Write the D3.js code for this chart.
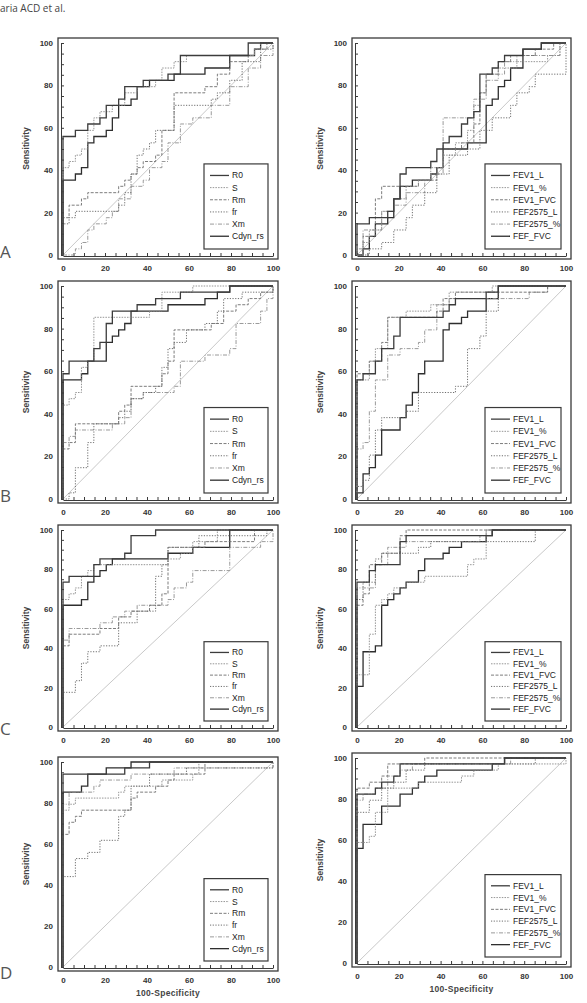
<!DOCTYPE html>
<html>
<head>
<meta charset="utf-8">
<script src="https://cdn.jsdelivr.net/npm/d3@7"></script>
<style>
  body { margin: 0; background: #fff; }
  svg { display: block; }
</style>
</head>
<body>
<div id="chart"></div>
<script>
// séries et repères
const seriesLeft = ["R0", "S", "Rm", "fr", "Xm", "Cdyn_rs"];
const seriesRight = ["FEV1_L", "FEV1_%", "FEV1_FVC", "FEF2575_L", "FEF2575_%", "FEF_FVC"];
const panelLetters = ["A", "B", "C", "D"];
const axisTicks = [0, 20, 40, 60, 80, 100];

// courbes ROC : [100-spécificité, sensibilité]
const curvesALeft = [
  [[0,0],[0,55.9],[5.9,58.8],[11.8,61.8],[17.6,64.7],[20.6,70.6],[26.5,73.5],[29.4,79.4],[38.2,82.4],[50,85.3],[55.9,94.1],[88.2,100],[100,100]],
  [[0,0],[0,41.2],[2.9,44.1],[5.9,47.1],[8.8,50],[11.8,58.8],[14.7,64.7],[17.6,67.6],[23.5,70.6],[29.4,76.5],[35.3,79.4],[44.1,82.4],[47.1,88.2],[52.9,91.2],[58.8,94.1],[91.2,97.1],[94.1,100],[100,100]],
  [[0,0],[0,17.6],[2.9,23.5],[8.8,26.5],[11.8,29.4],[26.5,32.4],[29.4,35.3],[32.4,38.2],[35.3,41.2],[38.2,44.1],[44.1,47.1],[47.1,58.8],[52.9,76.5],[67.6,79.4],[73.5,85.3],[79.4,91.2],[88.2,94.1],[91.2,97.1],[97.1,100],[100,100]],
  [[0,0],[0,14.7],[2.9,17.6],[5.9,20.6],[26.5,23.5],[29.4,29.4],[32.4,38.2],[35.3,47.1],[38.2,50],[41.2,52.9],[44.1,58.8],[52.9,70.6],[70.6,73.5],[73.5,76.5],[79.4,82.4],[85.3,91.2],[94.1,97.1],[100,100]],
  [[0,0],[5.9,2.9],[8.8,5.9],[11.8,11.8],[14.7,14.7],[20.6,17.6],[23.5,20.6],[26.5,26.5],[32.4,32.4],[38.2,35.3],[41.2,41.2],[47.1,44.1],[50,52.9],[55.9,61.8],[61.8,64.7],[70.6,70.6],[79.4,79.4],[88.2,88.2],[94.1,94.1],[100,100]],
  [[0,0],[0,35.3],[5.9,38.2],[8.8,41.2],[11.8,52.9],[14.7,55.9],[20.6,58.8],[23.5,64.7],[26.5,70.6],[32.4,73.5],[35.3,79.4],[41.2,82.4],[52.9,85.3],[67.6,88.2],[79.4,94.1],[91.2,97.1],[94.1,100],[100,100]]
];
const curvesARight = [
  [[0,0],[0,14.7],[5.9,17.6],[14.7,20.6],[17.6,26.5],[20.6,38.2],[23.5,41.2],[35.3,44.1],[38.2,50],[41.2,52.9],[44.1,55.9],[50,61.8],[52.9,64.7],[55.9,67.6],[58.8,85.3],[64.7,88.2],[67.6,91.2],[70.6,94.1],[79.4,97.1],[88.2,100],[100,100]],
  [[0,0],[2.9,5.9],[5.9,11.8],[11.8,20.6],[17.6,26.5],[23.5,32.4],[29.4,35.3],[35.3,41.2],[41.2,47.1],[47.1,52.9],[52.9,58.8],[55.9,70.6],[58.8,76.5],[61.8,85.3],[67.6,88.2],[76.5,91.2],[91.2,94.1],[97.1,100],[100,100]],
  [[0,0],[2.9,8.8],[8.8,26.5],[11.8,32.4],[29.4,35.3],[38.2,41.2],[41.2,50],[50,52.9],[55.9,61.8],[58.8,76.5],[61.8,85.3],[67.6,91.2],[73.5,94.1],[85.3,97.1],[94.1,100],[100,100]],
  [[0,0],[5.9,2.9],[11.8,5.9],[17.6,11.8],[23.5,17.6],[26.5,23.5],[32.4,29.4],[38.2,38.2],[44.1,47.1],[52.9,50],[58.8,58.8],[64.7,64.7],[73.5,70.6],[76.5,76.5],[82.4,79.4],[85.3,85.3],[100,100]],
  [[0,0],[0,2.9],[2.9,11.8],[11.8,20.6],[17.6,23.5],[23.5,29.4],[32.4,35.3],[35.3,38.2],[41.2,64.7],[55.9,73.5],[61.8,82.4],[67.6,85.3],[70.6,91.2],[76.5,94.1],[97.1,100],[100,100]],
  [[0,0],[2.9,2.9],[5.9,8.8],[8.8,14.7],[14.7,17.6],[17.6,26.5],[20.6,32.4],[26.5,35.3],[35.3,38.2],[38.2,41.2],[41.2,50],[52.9,52.9],[61.8,70.6],[64.7,73.5],[67.6,79.4],[70.6,82.4],[73.5,88.2],[79.4,97.1],[88.2,100],[100,100]]
];
const curvesBLeft = [
  [[0,0],[0,58.8],[2.9,64.7],[14.7,70.6],[17.6,73.5],[20.6,82.4],[23.5,88.2],[35.3,91.2],[44.1,94.1],[55.9,97.1],[79.4,100],[100,100]],
  [[0,0],[0,44.1],[2.9,47.1],[5.9,50],[8.8,61.8],[11.8,64.7],[14.7,85.3],[41.2,88.2],[47.1,97.1],[61.8,100],[100,100]],
  [[0,0],[0,23.5],[2.9,26.5],[5.9,35.3],[23.5,35.3],[26.5,41.2],[29.4,44.1],[32.4,52.9],[44.1,52.9],[47.1,58.8],[50,64.7],[52.9,79.4],[70.6,82.4],[76.5,88.2],[82.4,91.2],[88.2,94.1],[94.1,97.1],[100,100]],
  [[0,0],[2.9,2.9],[5.9,14.7],[11.8,26.5],[14.7,35.3],[26.5,38.2],[29.4,41.2],[32.4,47.1],[38.2,50],[44.1,52.9],[47.1,61.8],[50,70.6],[52.9,73.5],[58.8,79.4],[67.6,82.4],[73.5,88.2],[76.5,94.1],[85.3,97.1],[100,100]],
  [[0,0],[0,26.5],[2.9,29.4],[5.9,32.4],[23.5,35.3],[29.4,38.2],[32.4,47.1],[38.2,50],[52.9,52.9],[55.9,64.7],[67.6,67.6],[79.4,70.6],[82.4,82.4],[94.1,88.2],[97.1,94.1],[100,100]],
  [[0,0],[0,55.9],[8.8,58.8],[11.8,64.7],[20.6,73.5],[23.5,76.5],[26.5,79.4],[29.4,82.4],[32.4,88.2],[50,91.2],[67.6,94.1],[73.5,97.1],[79.4,100],[100,100]]
];
const curvesBRight = [
  [[0,0],[0,55.9],[2.9,58.8],[8.8,64.7],[11.8,70.6],[17.6,76.5],[20.6,85.3],[41.2,88.2],[44.1,91.2],[47.1,94.1],[61.8,97.1],[67.6,100],[100,100]],
  [[0,0],[0,55.9],[5.9,64.7],[8.8,70.6],[14.7,85.3],[23.5,88.2],[35.3,91.2],[44.1,97.1],[64.7,100],[100,100]],
  [[0,0],[0,58.8],[5.9,64.7],[11.8,73.5],[14.7,85.3],[38.2,88.2],[41.2,94.1],[47.1,97.1],[91.2,100],[100,100]],
  [[0,0],[0,5.9],[2.9,8.8],[5.9,20.6],[8.8,32.4],[11.8,38.2],[23.5,41.2],[29.4,50],[47.1,52.9],[52.9,70.6],[58.8,76.5],[61.8,88.2],[67.6,100],[100,100]],
  [[0,0],[0,23.5],[2.9,26.5],[5.9,41.2],[8.8,55.9],[14.7,67.6],[20.6,70.6],[29.4,73.5],[32.4,79.4],[38.2,91.2],[44.1,94.1],[82.4,97.1],[91.2,100],[100,100]],
  [[0,0],[0,2.9],[2.9,11.8],[5.9,14.7],[8.8,20.6],[11.8,32.4],[20.6,38.2],[23.5,44.1],[26.5,50],[29.4,58.8],[32.4,64.7],[41.2,79.4],[44.1,82.4],[50,85.3],[52.9,88.2],[61.8,94.1],[67.6,100],[100,100]]
];
const curvesCLeft = [
  [[0,0],[0,73.5],[2.9,76.5],[14.7,82.4],[17.6,85.3],[29.4,88.2],[32.4,97.1],[44.1,100],[100,100]],
  [[0,0],[0,64.7],[2.9,67.6],[5.9,70.6],[8.8,76.5],[11.8,79.4],[14.7,82.4],[50,85.3],[55.9,88.2],[61.8,94.1],[73.5,100],[100,100]],
  [[0,0],[0,41.2],[2.9,47.1],[17.6,50],[26.5,55.9],[32.4,58.8],[41.2,61.8],[47.1,67.6],[50,91.2],[67.6,94.1],[91.2,100],[100,100]],
  [[0,0],[0,17.6],[5.9,23.5],[8.8,32.4],[11.8,38.2],[17.6,41.2],[26.5,52.9],[35.3,58.8],[44.1,76.5],[47.1,82.4],[50,91.2],[64.7,97.1],[97.1,100],[100,100]],
  [[0,0],[0,44.1],[2.9,50],[17.6,52.9],[23.5,55.9],[29.4,58.8],[35.3,61.8],[50,64.7],[52.9,70.6],[58.8,73.5],[61.8,79.4],[79.4,82.4],[79.4,91.2],[94.1,94.1],[100,100]],
  [[0,0],[0,61.8],[8.8,64.7],[11.8,73.5],[14.7,76.5],[17.6,79.4],[20.6,82.4],[23.5,85.3],[50,88.2],[61.8,91.2],[79.4,100],[100,100]]
];
const curvesCRight = [
  [[0,0],[0,73.5],[5.9,79.4],[8.8,82.4],[20.6,94.1],[23.5,97.1],[64.7,100],[100,100]],
  [[0,0],[0,26.5],[5.9,47.1],[8.8,61.8],[11.8,64.7],[14.7,67.6],[17.6,70.6],[23.5,73.5],[32.4,76.5],[50,76.5],[52.9,82.4],[55.9,85.3],[61.8,100],[100,100]],
  [[0,0],[0,61.8],[2.9,67.6],[5.9,82.4],[11.8,88.2],[20.6,97.1],[23.5,100],[100,100]],
  [[0,0],[0,64.7],[2.9,73.5],[8.8,85.3],[11.8,88.2],[29.4,91.2],[35.3,94.1],[85.3,100],[100,100]],
  [[0,0],[0,70.6],[5.9,70.6],[8.8,82.4],[14.7,91.2],[23.5,94.1],[58.8,97.1],[61.8,100],[100,100]],
  [[0,0],[0,20.6],[2.9,38.2],[8.8,41.2],[11.8,61.8],[14.7,64.7],[17.6,67.6],[20.6,70.6],[23.5,73.5],[29.4,79.4],[32.4,85.3],[41.2,88.2],[44.1,91.2],[50,94.1],[61.8,97.1],[64.7,100],[100,100]]
];
const curvesDLeft = [
  [[0,0],[0,94.1],[29.4,97.1],[41.2,100],[100,100]],
  [[0,0],[0,76.5],[2.9,79.4],[5.9,82.4],[26.5,85.3],[29.4,88.2],[47.1,91.2],[61.8,94.1],[64.7,100],[100,100]],
  [[0,0],[0,64.7],[2.9,70.6],[5.9,73.5],[8.8,76.5],[26.5,76.5],[32.4,82.4],[35.3,85.3],[44.1,88.2],[50,91.2],[52.9,94.1],[67.6,100],[100,100]],
  [[0,0],[0,44.1],[5.9,52.9],[11.8,55.9],[17.6,61.8],[26.5,73.5],[29.4,76.5],[32.4,88.2],[41.2,94.1],[58.8,97.1],[100,100]],
  [[0,0],[0,79.4],[2.9,85.3],[14.7,88.2],[17.6,91.2],[32.4,94.1],[52.9,97.1],[100,100]],
  [[0,0],[0,85.3],[8.8,88.2],[11.8,94.1],[20.6,97.1],[32.4,100],[100,100]]
];
const curvesDRight = [
  [[0,0],[0,82.4],[8.8,85.3],[11.8,88.2],[17.6,91.2],[20.6,97.1],[70.6,100],[100,100]],
  [[0,0],[0,58.8],[5.9,61.8],[8.8,73.5],[14.7,85.3],[29.4,88.2],[50,91.2],[55.9,94.1],[67.6,97.1],[100,100]],
  [[0,0],[0,85.3],[5.9,88.2],[11.8,91.2],[14.7,97.1],[32.4,100],[100,100]],
  [[0,0],[0,73.5],[5.9,79.4],[11.8,85.3],[17.6,88.2],[23.5,94.1],[32.4,97.1],[85.3,100],[100,100]],
  [[0,0],[0,79.4],[2.9,82.4],[8.8,85.3],[14.7,91.2],[20.6,94.1],[26.5,97.1],[73.5,100],[100,100]],
  [[0,0],[0,55.9],[2.9,67.6],[11.8,76.5],[20.6,82.4],[26.5,85.3],[29.4,88.2],[32.4,91.2],[38.2,94.1],[61.8,94.1],[64.7,97.1],[70.6,100],[100,100]]
];

//---------------------------------------------------------------------------------------

// Mise en page : cadres des 8 graphiques
const W = 587, H = 1003;
const colFrames = [[58, 278], [352, 571]];
const rowFramesLeft = [[38, 259], [281, 503], [525, 731], [757, 971]];
const rowFramesRight = [[38, 259], [281, 503], [525, 731], [753, 967]];
const letterBaselines = [258, 502, 735, 979];

// styles des 6 courbes (même ordre que les légendes)
const lineStyles = [
  { col: "#3c3c3c", w: 1.3, dash: null },
  { col: "#8a8a8a", w: 0.9, dash: "1.5,1.2" },
  { col: "#6e6e6e", w: 0.9, dash: "3,1.5" },
  { col: "#5e5e5e", w: 0.9, dash: "1.2,1.5" },
  { col: "#8e8e8e", w: 0.9, dash: "4,1.5,1,1.5" },
  { col: "#2e2e2e", w: 1.3, dash: null }
];

const panels = [
  { row: 0, col: 0, curves: curvesALeft, names: seriesLeft },
  { row: 0, col: 1, curves: curvesARight, names: seriesRight },
  { row: 1, col: 0, curves: curvesBLeft, names: seriesLeft },
  { row: 1, col: 1, curves: curvesBRight, names: seriesRight },
  { row: 2, col: 0, curves: curvesCLeft, names: seriesLeft },
  { row: 2, col: 1, curves: curvesCRight, names: seriesRight },
  { row: 3, col: 0, curves: curvesDLeft, names: seriesLeft },
  { row: 3, col: 1, curves: curvesDRight, names: seriesRight }
];

const svg = d3.select("#chart")
  .append("svg")
  .attr("width", W)
  .attr("height", H)
  .attr("viewBox", [0, 0, W, H]);

// en-tête de page
svg.append("text")
  .attr("x", 0)
  .attr("y", 12)
  .attr("font-family", "Open Sans, sans-serif")
  .attr("font-size", 10)
  .attr("fill", "#444")
  .text("aria ACD et al.");

// lettres des rangées
svg.selectAll(".letter")
  .data(panelLetters)
  .join("text")
  .attr("class", "letter")
  .attr("x", 0)
  .attr("y", (d, i) => letterBaselines[i])
  .attr("font-family", "Open Sans, sans-serif")
  .attr("font-size", 17)
  .attr("fill", "#555")
  .text(d => d);

//---------------------------------------------------------------------------------------

panels.forEach(p => {
  const [fl, fr] = colFrames[p.col];
  const [ft, fb] = (p.col === 0 ? rowFramesLeft : rowFramesRight)[p.row];

  const x = d3.scaleLinear().domain([0, 100]).range([fl + 5, fr - 5]);
  const y = d3.scaleLinear().domain([0, 100]).range([fb - 4, ft + 5]);

  const g = svg.append("g");

  // cadre
  g.append("rect")
    .attr("x", fl).attr("y", ft)
    .attr("width", fr - fl).attr("height", fb - ft)
    .attr("fill", "#fff")
    .attr("stroke", "#3a3a3a")
    .attr("stroke-width", 1.3);

  // axe Y (ticks vers l'intérieur)
  g.append("g")
    .attr("transform", `translate(${fl + 3}, 0)`)
    .call(d3.axisLeft(y)
      .tickValues(d3.range(0, 101, 5))
      .tickSizeInner(-3)
      .tickSizeOuter(0)
      .tickPadding(8)
      .tickFormat(d => axisTicks.includes(d) ? d : ""))
    .call(a => a.select(".domain").attr("stroke", "#3a3a3a"))
    .call(a => a.selectAll(".tick line").attr("stroke", "#3a3a3a"))
    .selectAll("text")
    .attr("font-family", "Liberation Sans, Arial, sans-serif")
    .attr("font-weight", "bold")
    .attr("font-size", 8)
    .attr("fill", "#333");

  // axe X
  g.append("g")
    .attr("transform", `translate(0, ${fb - 3})`)
    .call(d3.axisBottom(x)
      .tickValues(d3.range(0, 101, 5))
      .tickSizeInner(-3)
      .tickSizeOuter(0)
      .tickPadding(9)
      .tickFormat(d => axisTicks.includes(d) ? d : ""))
    .call(a => a.select(".domain").attr("stroke", "#3a3a3a"))
    .call(a => a.selectAll(".tick line").attr("stroke", "#3a3a3a"))
    .selectAll("text")
    .attr("font-family", "Liberation Sans, Arial, sans-serif")
    .attr("font-weight", "bold")
    .attr("font-size", 8)
    .attr("fill", "#333");

  // titre axe Y
  g.append("text")
    .attr("transform", `translate(${fl - 29}, ${(ft + fb) / 2}) rotate(-90)`)
    .attr("text-anchor", "middle")
    .attr("font-family", "Liberation Sans, Arial, sans-serif")
    .attr("font-weight", "bold")
    .attr("font-size", 8.5)
    .attr("fill", "#444")
    .text("Sensitivity");

  if (p.row === 3) {
    g.append("text")
      .attr("x", (fl + fr) / 2)
      .attr("y", fb + 25)
      .attr("text-anchor", "middle")
      .attr("font-family", "Liberation Sans, Arial, sans-serif")
      .attr("font-weight", "bold")
      .attr("font-size", 8.5)
      .attr("letter-spacing", 0.3)
      .attr("fill", "#444")
      .text("100-Specificity");
  }

  // diagonale de référence
  g.append("line")
    .attr("x1", x(0)).attr("y1", y(0))
    .attr("x2", x(100)).attr("y2", y(100))
    .attr("stroke", "#b0b0b0")
    .attr("stroke-width", 0.7);

  // courbes ROC en escalier
  const line = d3.line()
    .x(d => x(d[0]))
    .y(d => y(d[1]))
    .curve(d3.curveStepAfter);

  g.selectAll(".roc")
    .data(p.curves.map((c, i) => ({ pts: c, i })).reverse())
    .join("path")
    .attr("class", "roc")
    .attr("d", d => line(d.pts))
    .attr("fill", "none")
    .attr("stroke", d => lineStyles[d.i].col)
    .attr("stroke-width", d => lineStyles[d.i].w)
    .attr("stroke-dasharray", d => lineStyles[d.i].dash);

  // légende
  const lw = p.col === 0 ? 64 : 76;
  const lh = (fb - ft) * 0.385;
  const lx = fr - 10 - lw;
  const ly = fb - 10 - lh;
  const step = lh / 7;

  const leg = g.append("g").attr("transform", `translate(${lx}, ${ly})`);
  leg.append("rect")
    .attr("width", lw).attr("height", lh)
    .attr("fill", "#fff")
    .attr("stroke", "#3a3a3a")
    .attr("stroke-width", 1.2);

  const items = leg.selectAll(".item")
    .data(p.names)
    .join("g")
    .attr("class", "item")
    .attr("transform", (d, i) => `translate(0, ${step * (i + 0.95)})`);

  items.append("line")
    .attr("x1", 6).attr("x2", 25)
    .attr("stroke", (d, i) => lineStyles[i].col)
    .attr("stroke-width", (d, i) => lineStyles[i].w)
    .attr("stroke-dasharray", (d, i) => lineStyles[i].dash);

  items.append("text")
    .attr("x", 28)
    .attr("y", 3)
    .attr("font-family", "Liberation Sans, Arial, sans-serif")
    .attr("font-size", 8.5)
    .attr("fill", "#222")
    .text(d => d);
});
</script>
</body>
</html>
